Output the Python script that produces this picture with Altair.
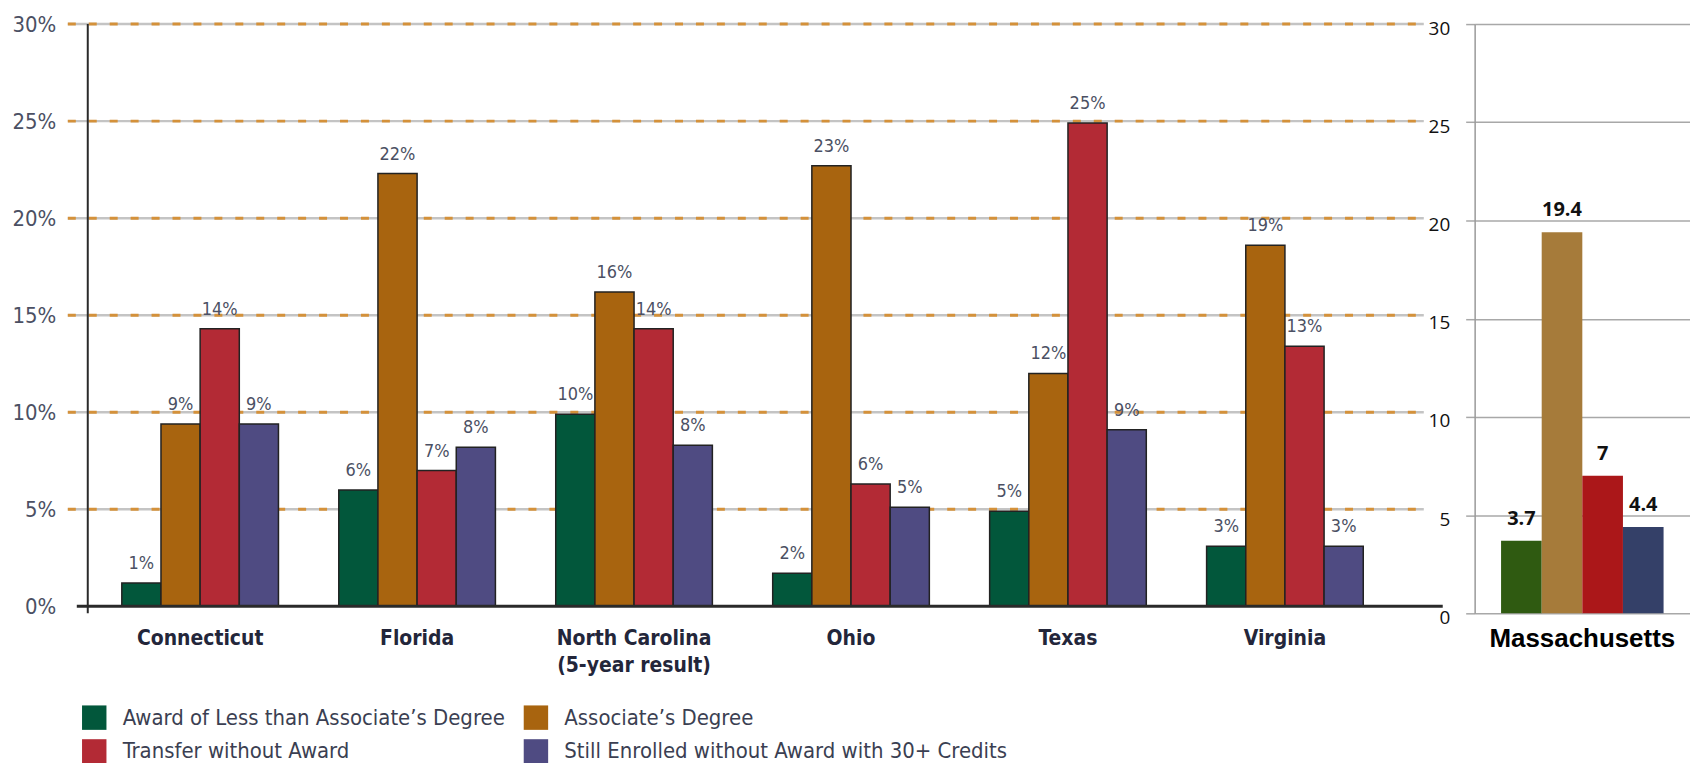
import altair as alt
import pandas as pd

# ---------------- data ----------------
states = ["Connecticut", "Florida", "North Carolina|(5-year result)", "Ohio", "Texas", "Virginia"]
series = [
    "Award of Less than Associate’s Degree",
    "Associate’s Degree",
    "Transfer without Award",
    "Still Enrolled without Award with 30+ Credits",
]
less_than_assoc = [1.2, 6.0, 9.9, 1.7, 4.9, 3.1]
assoc_degree = [9.4, 22.3, 16.2, 22.7, 12.0, 18.6]
transfer = [14.3, 7.0, 14.3, 6.3, 24.9, 13.4]
still_enrolled = [9.4, 8.2, 8.3, 5.1, 9.1, 3.1]
colors = ["#02573b", "#a8640f", "#b32a35", "#4f4b82"]

ma_state = ["Massachusetts"]
ma_values = [3.7, 19.4, 7, 4.4]
ma_colors = ["#2f5a11", "#a67b3a", "#ab1719", "#344068"]

y_ticks = [0, 5, 10, 15, 20, 25, 30]
grid_ticks = [5, 10, 15, 20, 25, 30]

# ---------------- tables ----------------
rows = []
for vals, s in zip([less_than_assoc, assoc_degree, transfer, still_enrolled], series):
    for st, v in zip(states, vals):
        rows.append({"state": st, "series": s, "value": v})
df = pd.DataFrame(rows)
grid_df = pd.DataFrame({"tick": grid_ticks})
zero_df = pd.DataFrame({"tick": [0]})

ma_df = pd.DataFrame({
    "state": ma_state * len(series),
    "series": series,
    "value": ma_values,
    "color": ma_colors,
})

COND = "'Liberation Sans Narrow', 'DejaVu Sans Condensed', 'Roboto', sans-serif"
W1, H1 = 1340, 584
W2, H2 = 216, 591

yscale = alt.Scale(domain=[0, 30], nice=False)

# ---------------- left chart ----------------
grid_gray = alt.Chart(grid_df).mark_rule(color="#c4c4c4", strokeWidth=2.5).encode(
    y=alt.Y("tick:Q", scale=yscale),
    x=alt.value(-20), x2=alt.value(W1),
)
grid_orange = alt.Chart(grid_df).mark_rule(
    color="#d4913a", strokeWidth=3, strokeDash=[8, 13]
).encode(
    y=alt.Y("tick:Q", scale=yscale),
    x=alt.value(-20), x2=alt.value(W1),
)

xenc = alt.X(
    "state:N", sort=states,
    scale=alt.Scale(paddingInner=0.278, paddingOuter=0.218, align=0.36),
    axis=alt.Axis(
        title=None, labelAngle=0, domain=False, ticks=False,
        labelExpr="split(datum.label, '|')",
        labelFont=COND, labelFontSize=21, labelFontWeight="bold",
        labelColor="#23263a", labelPadding=21, labelLineHeight=27,
    ),
)
xoff = alt.XOffset("series:N", sort=series, scale=alt.Scale(paddingInner=0, paddingOuter=0))

bars = alt.Chart(df).mark_bar(stroke="#222222", strokeWidth=1.5).encode(
    x=xenc,
    xOffset=xoff,
    y=alt.Y(
        "value:Q", scale=yscale,
        axis=alt.Axis(
            values=y_ticks, title=None, domain=False, grid=False, ticks=False,
            labelExpr="datum.value + '%'", labelFont=COND, labelFontSize=22,
            labelColor="#4b5063", labelPadding=32,
        ),
    ),
    color=alt.Color(
        "series:N", sort=series,
        scale=alt.Scale(domain=series, range=colors),
        legend=alt.Legend(
            orient="none", legendX=-6, legendY=683, direction="horizontal",
            columns=2, title=None, symbolType="square", symbolSize=600,
            symbolStrokeWidth=0, symbolOpacity=1, labelFont=COND,
            labelFontSize=22, labelColor="#3b3f52", columnPadding=18,
            rowPadding=9, labelOffset=16, labelLimit=600,
        ),
    ),
)

bar_labels = alt.Chart(df).transform_calculate(
    label="format(datum.value, '.0f') + '%'"
).mark_text(
    baseline="bottom", dy=-10, font=COND, fontSize=18, color="#4b5063"
).encode(
    x=alt.X("state:N", sort=states),
    xOffset=alt.XOffset("series:N", sort=series),
    y=alt.Y("value:Q", scale=yscale),
    text="label:N",
)

baseline = alt.Chart(zero_df).mark_rule(color="#2a2a2a", strokeWidth=3).encode(
    y=alt.Y("tick:Q", scale=yscale),
    x=alt.value(-11), x2=alt.value(W1 + 19),
)
yline = alt.Chart(zero_df).mark_rule(color="#2a2a2a", strokeWidth=2).encode(
    x=alt.value(0), y=alt.value(0), y2=alt.value(H1 + 7),
)

left = alt.layer(grid_gray, grid_orange, bars, bar_labels, baseline, yline).properties(
    width=W1, height=H1
)

# ---------------- right chart (Massachusetts) ----------------
ma_x = alt.X(
    "state:N", sort=ma_state,
    scale=alt.Scale(paddingInner=0, paddingOuter=0.1626),
    axis=alt.Axis(
        title=None, labelAngle=0, domain=False, ticks=False, labelLimit=400,
        labelFont="Liberation Sans", labelFontSize=26, labelFontWeight="bold",
        labelColor="#000000", labelPadding=12,
    ),
)
ma_bars = alt.Chart(ma_df).mark_bar().encode(
    x=ma_x,
    xOffset=alt.XOffset("series:N", sort=series, scale=alt.Scale(paddingInner=0, paddingOuter=0)),
    y=alt.Y(
        "value:Q", scale=yscale,
        axis=alt.Axis(
            values=y_ticks, title=None, domain=True, domainColor="#9a9a9a",
            domainWidth=1.5, grid=True, gridColor="#a8a8a8", gridWidth=1.5,
            ticks=True, tickSize=9, tickColor="#a8a8a8", tickWidth=1.5,
            labelFont="Open Sans", labelFontSize=19, labelColor="#111111",
            labelPadding=16, labelOffset=4,
        ),
    ),
    color=alt.Color("color:N", scale=None),
)
ma_labels = alt.Chart(ma_df).transform_calculate(
    label="'' + datum.value"
).mark_text(
    baseline="bottom", dy=-12, font="Open Sans", fontSize=20,
    fontWeight="bold", color="#111111"
).encode(
    x=alt.X("state:N", sort=ma_state),
    xOffset=alt.XOffset("series:N", sort=series),
    y=alt.Y("value:Q", scale=yscale),
    text="label:N",
)
right = alt.layer(ma_bars, ma_labels).properties(width=W2, height=H2)

chart = alt.hconcat(left, right, spacing=51, bounds="flush").resolve_scale(
    color="independent", x="independent", y="independent", xOffset="independent"
).properties(
    padding={"left": 4, "top": 4, "right": 0, "bottom": 0},
    background="white",
).configure_view(stroke=None)

chart.save("out.html", embed_options={"renderer": "svg", "actions": False})
